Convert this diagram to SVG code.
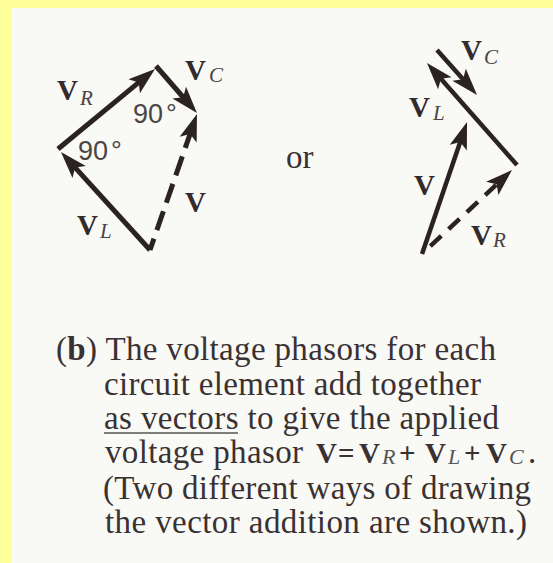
<svg xmlns="http://www.w3.org/2000/svg" width="553" height="563" viewBox="0 0 553 563">
  <style>
    .ln { fill: none; stroke: #2b2323; stroke-linecap: butt; }
    .l5 { stroke-width: 5; }
    .l4 { stroke-width: 4.5; }
    .V { font-family: "Liberation Serif", "Times New Roman", serif; font-weight: bold; font-size: 29px; fill: #332b2b; }
    .sub { font-family: "Liberation Serif", "Times New Roman", serif; font-style: italic; font-size: 21px; fill: #4a4242; }
    .deg { font-family: "Liberation Sans", Arial, sans-serif; font-size: 27px; fill: #4a4444; }
    .cap { font-family: "Liberation Serif", "Times New Roman", serif; font-size: 33px; fill: #3a3232; }
    .b { font-weight: bold; }
    .fv { font-weight: bold; font-size: 29px; }
    .csub { font-style: italic; font-size: 22px; fill: #555; }
  </style>
  <defs>
    <marker id="head" viewBox="-28 -10 30 20" refX="-10" refY="0" markerWidth="30" markerHeight="20" markerUnits="userSpaceOnUse" orient="auto" overflow="visible">
      <path d="M0,0 L-27,-9 L-21,0 L-27,9 Z" fill="#2b2323"/>
    </marker>
  </defs>

  <g id="background">
    <rect x="0" y="0" width="553" height="563" fill="#FFFF99"/>
    <rect x="12" y="8" width="541" height="555" fill="#F9F9F6"/>
  </g>

  <g id="connectors">
    <!-- left diagram -->
    <line id="left-VL" class="ln l5" x1="150" y1="250" x2="67.7" y2="159.4" marker-end="url(#head)"/>
    <line id="left-VR" class="ln l5" x1="58" y1="149" x2="147.3" y2="75.4" marker-end="url(#head)"/>
    <line id="left-VC" class="ln l5" x1="156" y1="66" x2="190.4" y2="105.5" marker-end="url(#head)"/>
    <line id="left-V" class="ln l5" x1="150" y1="250" x2="193.7" y2="123.5" stroke-dasharray="20 9" stroke-dashoffset="8" marker-end="url(#head)"/>
    <!-- right diagram -->
    <line id="right-V" class="ln l4" x1="422" y1="254" x2="463.8" y2="131.5" marker-end="url(#head)"/>
    <line id="right-VR" class="ln l4" x1="423" y1="253" x2="504.7" y2="176.8" stroke-dasharray="15 10" stroke-dashoffset="15" marker-end="url(#head)"/>
    <line id="right-VL" class="ln l4" x1="517" y1="165" x2="433.6" y2="70.5" marker-end="url(#head)"/>
    <line id="right-VC" class="ln l4" x1="437" y1="50" x2="470.4" y2="87.5" marker-end="url(#head)"/>
  </g>

  <g id="left-label-VR"><text class="V" x="57" y="100">V</text><text class="sub" x="80" y="105">R</text></g>
  <g id="left-label-VC"><text class="V" x="185" y="80">V</text><text class="sub" x="209" y="82">C</text></g>
  <g id="left-label-V"><text class="V" x="185" y="212">V</text></g>
  <g id="left-label-VL"><text class="V" x="77" y="235">V</text><text class="sub" x="100" y="238">L</text></g>
  <g id="left-angle-top"><text class="deg" x="133" y="123">90<tspan dx="3">°</tspan></text></g>
  <g id="left-angle-left"><text class="deg" x="78" y="160">90<tspan dx="3">°</tspan></text></g>

  <g id="or-label"><text class="cap" x="286" y="168" font-size="30">or</text></g>

  <g id="right-label-VC"><text class="V" x="461" y="60">V</text><text class="sub" x="484" y="64">C</text></g>
  <g id="right-label-VL"><text class="V" x="409" y="117">V</text><text class="sub" x="433" y="120">L</text></g>
  <g id="right-label-V"><text class="V" x="414" y="195">V</text></g>
  <g id="right-label-VR"><text class="V" x="471" y="245">V</text><text class="sub" x="493" y="247">R</text></g>

  <g id="caption">
    <text class="cap" x="56" y="360" textLength="440" lengthAdjust="spacing">(<tspan class="b">b</tspan>) The voltage phasors for each</text>
    <text class="cap" x="104" y="395" textLength="377" lengthAdjust="spacing">circuit element add together</text>
    <text class="cap" x="104" y="429" textLength="395" lengthAdjust="spacing">as vectors to give the applied</text>
    <line x1="104" y1="433" x2="238" y2="433" stroke="#555" stroke-width="1.6"/>
    <text class="cap" x="105" y="463" textLength="198" lengthAdjust="spacing">voltage phasor</text>
    <text class="cap" y="463"><tspan class="fv" x="316">V</tspan><tspan class="fv" x="338">=</tspan><tspan class="fv" x="359">V</tspan><tspan class="csub" x="382" dy="1">R</tspan><tspan class="fv" x="399" dy="-1">+</tspan><tspan class="fv" x="425">V</tspan><tspan class="csub" x="448" dy="1">L</tspan><tspan class="fv" x="464" dy="-1">+</tspan><tspan class="fv" x="486">V</tspan><tspan class="csub" x="509" dy="1">C</tspan><tspan x="528" dy="-1">.</tspan></text>
    <text class="cap" x="103" y="499" textLength="428" lengthAdjust="spacing">(Two different ways of drawing</text>
    <text class="cap" x="105" y="533" textLength="422" lengthAdjust="spacing">the vector addition are shown.)</text>
  </g>
</svg>
